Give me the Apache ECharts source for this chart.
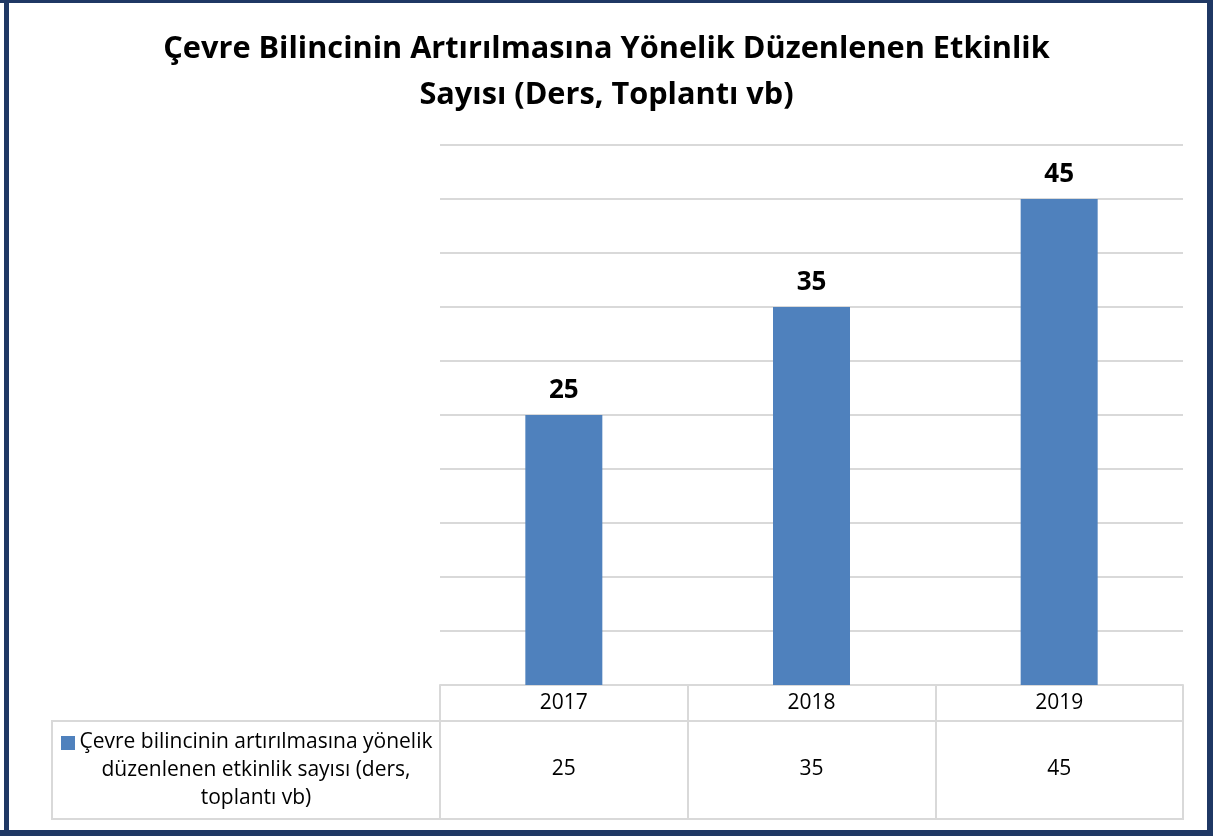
<!DOCTYPE html>
<html><head><meta charset="utf-8">
<script src="https://cdn.jsdelivr.net/npm/echarts@6/dist/echarts.min.js"></script>
<style>html,body{margin:0;padding:0;background:#fff}#c{width:1213px;height:836px}</style>
</head><body><div id="c"></div>
<script>
const titleLines = ['Çevre Bilincinin Artırılmasına Yönelik Düzenlenen Etkinlik', 'Sayısı (Ders, Toplantı vb)'];
const categories = ['2017', '2018', '2019'];
const values = [25, 35, 45];
const seriesName = 'Çevre bilincinin artırılmasına yönelik\ndüzenlenen etkinlik sayısı (ders,\ntoplantı vb)';
const yMin = 0, yMax = 50, yStep = 5;

const FONT = '"Open Sans", sans-serif';
const BAR = '#4F81BD', GRID = '#D9D9D9', NAVY = '#1F3864';
const chart = echarts.init(document.getElementById('c'), null, {renderer: 'canvas'});
chart.setOption({
  animation: false,
  backgroundColor: '#fff',
  title: {
    text: titleLines.join('\n'), left: 'center', top: 21,
    textStyle: {fontFamily: FONT, fontSize: 30.7, fontWeight: 'bold', color: '#000', lineHeight: 46}
  },
  grid: {left: 440, right: 30, top: 145, bottom: 151, containLabel: false},
  xAxis: [{
    type: 'category', data: categories, position: 'bottom',
    axisLine: {show: true, lineStyle: {color: GRID, width: 2}},
    axisTick: {show: true, length: 36, lineStyle: {color: GRID, width: 2}},
    axisLabel: {fontFamily: FONT, fontSize: 21, color: '#000', margin: 8}
  }, {
    type: 'category', data: values.map(String), position: 'bottom', offset: 36,
    axisLine: {show: true, lineStyle: {color: GRID, width: 2}},
    axisTick: {show: true, length: 98, lineStyle: {color: GRID, width: 2}},
    axisLabel: {fontFamily: FONT, fontSize: 21, color: '#000', margin: 38}
  }],
  yAxis: {
    type: 'value', min: yMin, max: yMax, interval: yStep,
    axisLabel: {show: false}, axisLine: {show: false}, axisTick: {show: false},
    splitLine: {lineStyle: {color: GRID, width: 2}}
  },
  series: [{
    type: 'bar', name: seriesName, data: values, barWidth: 77,
    itemStyle: {color: BAR},
    label: {show: true, position: 'top', distance: 11, fontFamily: FONT, fontSize: 26, fontWeight: 'bold', color: '#000'}
  }],
  graphic: [
    {type: 'rect', shape: {x: 52, y: 721, width: 388, height: 98}, style: {fill: 'none', stroke: GRID, lineWidth: 2}, z: 1},
    {type: 'line', shape: {x1: 52, y1: 819, x2: 1184, y2: 819}, style: {stroke: GRID, lineWidth: 2}, z: 1},
    {type: 'rect', shape: {x: 61, y: 736, width: 14, height: 14}, style: {fill: BAR}, z: 2},
    {type: 'text', x: 256, y: 770, style: {text: seriesName, fontFamily: FONT, fontSize: 21, fill: '#000', align: 'center', verticalAlign: 'middle', lineHeight: 28}, z: 2},
    {type: 'rect', shape: {x: 0, y: 0, width: 1213, height: 3}, style: {fill: NAVY}, z: 5},
    {type: 'rect', shape: {x: 4, y: 0, width: 5, height: 836}, style: {fill: NAVY}, z: 5},
    {type: 'rect', shape: {x: 1207, y: 0, width: 6, height: 836}, style: {fill: NAVY}, z: 5},
    {type: 'rect', shape: {x: 0, y: 830, width: 1213, height: 6}, style: {fill: NAVY}, z: 5}
  ]
});
</script></body></html>
